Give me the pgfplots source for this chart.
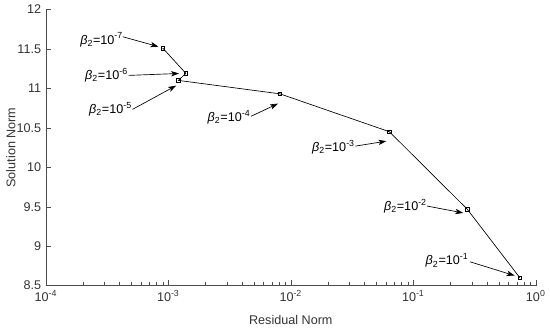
\documentclass[border=0pt]{standalone}
\usepackage{pgfplots}
\pgfplotsset{compat=1.18}
\usetikzlibrary{arrows.meta}
\usepackage{fontspec}
\setmainfont{Liberation Sans}
\newcommand{\lab}[2]{{\itshape β}\textsubscript{#1}=10\textsuperscript{#2}}
\begin{document}
\begin{tikzpicture}
\begin{semilogxaxis}[
  scale only axis,
  width=369pt, height=208pt,
  xmin=1e-4, xmax=1, ymin=8.5, ymax=12,
  axis x line*=bottom, axis y line*=left,
  tick align=inside,
  major tick length=4pt, minor tick length=2.5pt,
  xtick={1e-4,1e-3,1e-2,1e-1,1},
  xticklabels={10\textsuperscript{-4},10\textsuperscript{-3},10\textsuperscript{-2},10\textsuperscript{-1},10\textsuperscript{0}},
  ytick={8.5,9,9.5,10,10.5,11,11.5,12},
  /pgf/number format/assume math mode=true,
  ticklabel style={font=\fontsize{9.5}{11}\selectfont, text=black!80},
  label style={font=\fontsize{9.5}{11}\selectfont, text=black!80},
  xlabel={Residual Norm}, ylabel={Solution Norm},
  xlabel style={at={(rel axis cs:0.5,-0.125)}, anchor=center},
  ylabel style={at={(rel axis cs:-0.0715,0.5)}, anchor=center, rotate=0},
  axis line style={black!70},
  tick style={black!70},
  clip=false,
]
\addplot[black, line width=0.5pt, mark=square, mark size=1.4pt, mark options={fill=white, line width=0.5pt}]
  coordinates {
  (9.0e-4,11.51)
  (1.39e-3,11.19)
  (1.21e-3,11.10)
  (8.15e-3,10.93)
  (0.0638,10.45)
  (0.275,9.47)
  (0.741,8.60)
  };
\path (rel axis cs:-0.0935,-0.162) rectangle (rel axis cs:1.0244,1.034);
\tikzset{ann/.style={font=\fontsize{9.5}{11}\selectfont, anchor=center},
         arr/.style={-{Stealth[length=6pt,width=4pt,inset=1.5pt]}, line width=0.5pt}}
\node[ann] at (rel axis cs:0.114,0.890) {\lab{2}{-7}};
\draw[arr] (rel axis cs:0.157,0.901) -- (rel axis cs:0.230,0.865);
\node[ann] at (rel axis cs:0.124,0.761) {\lab{2}{-6}};
\draw[arr] (rel axis cs:0.169,0.761) -- (rel axis cs:0.272,0.768);
\node[ann] at (rel axis cs:0.132,0.638) {\lab{2}{-5}};
\draw[arr] (rel axis cs:0.177,0.638) -- (rel axis cs:0.266,0.724);
\node[ann] at (rel axis cs:0.374,0.609) {\lab{2}{-4}};
\draw[arr] (rel axis cs:0.419,0.613) -- (rel axis cs:0.474,0.659);
\node[ann] at (rel axis cs:0.587,0.501) {\lab{2}{-3}};
\draw[arr] (rel axis cs:0.632,0.505) -- (rel axis cs:0.695,0.523);
\node[ann] at (rel axis cs:0.734,0.288) {\lab{2}{-2}};
\draw[arr] (rel axis cs:0.778,0.288) -- (rel axis cs:0.852,0.263);
\node[ann] at (rel axis cs:0.819,0.090) {\lab{2}{-1}};
\draw[arr] (rel axis cs:0.866,0.086) -- (rel axis cs:0.957,0.036);
\end{semilogxaxis}
\end{tikzpicture}
\end{document}
